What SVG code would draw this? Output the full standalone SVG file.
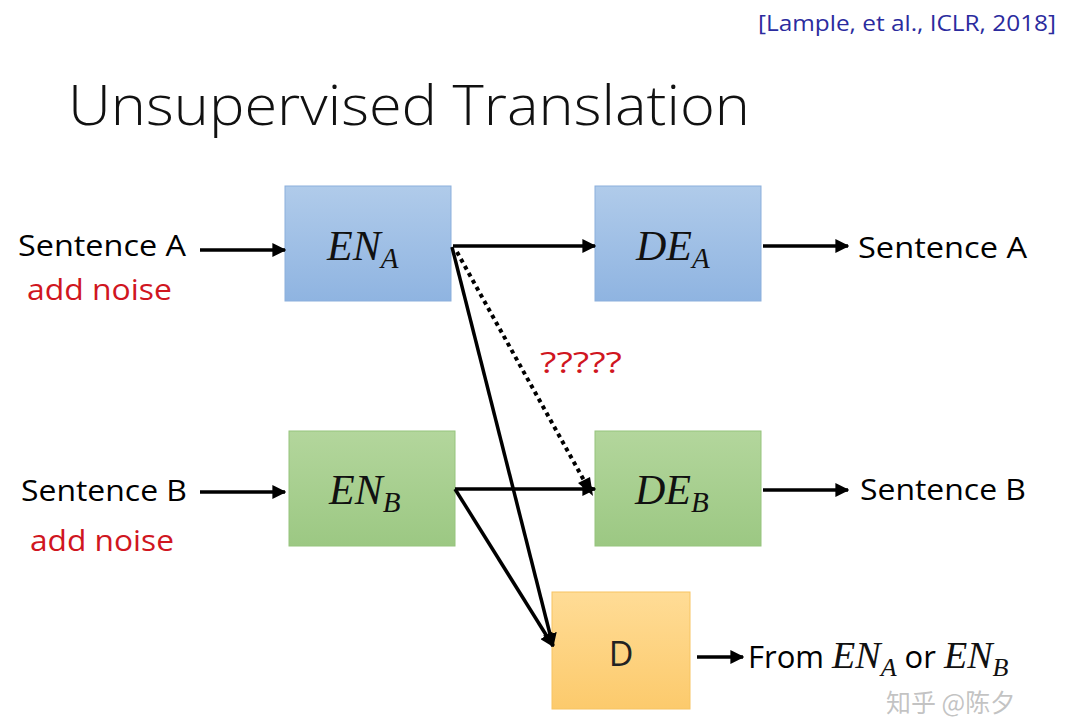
<svg xmlns="http://www.w3.org/2000/svg" width="1080" height="721" viewBox="0 0 1080 721">
<defs>
<linearGradient id="gBlue" x1="0" y1="0" x2="0" y2="1"><stop offset="0" stop-color="#b0cbea"/><stop offset="1" stop-color="#8fb4e1"/></linearGradient>
<linearGradient id="gGreen" x1="0" y1="0" x2="0" y2="1"><stop offset="0" stop-color="#b3d69c"/><stop offset="1" stop-color="#9cc883"/></linearGradient>
<linearGradient id="gOrange" x1="0" y1="0" x2="0" y2="1"><stop offset="0" stop-color="#ffdc96"/><stop offset="1" stop-color="#fcca6c"/></linearGradient>
<marker id="ah" viewBox="0 0 10 10" refX="9" refY="5" markerWidth="4" markerHeight="4" orient="auto" markerUnits="strokeWidth"><path d="M0,0 L10,5 L0,10 z" fill="#000"/></marker>
</defs>
<style>
.lbl{font-family:"Open Sans","Noto Sans","Liberation Sans",sans-serif;font-size:29px;fill:#000}
.red{font-family:"Open Sans","Noto Sans","Liberation Sans",sans-serif;font-size:29px;fill:#d0161f}
.math{font-family:"Liberation Serif","DejaVu Serif",serif;font-style:italic;fill:#111}
.conn{stroke:#000;stroke-width:3.5;fill:none;marker-end:url(#ah)}
.box{stroke-width:1}
</style>
<rect width="1080" height="721" fill="#fff"/>
<text x="758" y="31" font-family="Open Sans, Noto Sans, Liberation Sans, sans-serif" font-size="22" fill="#2b2b9e" textLength="298" lengthAdjust="spacingAndGlyphs">[Lample, et al., ICLR, 2018]</text>
<text x="68" y="125" font-family="Open Sans, Noto Sans, Liberation Sans, sans-serif" font-size="56" font-weight="300" fill="#111" textLength="682" lengthAdjust="spacingAndGlyphs">Unsupervised Translation</text>

<g id="inA">
<text class="lbl" x="18" y="256" textLength="168" lengthAdjust="spacingAndGlyphs">Sentence A</text>
<text class="red" x="27" y="300" textLength="145" lengthAdjust="spacingAndGlyphs">add noise</text>
</g>
<g id="inB">
<text class="lbl" x="21" y="501" textLength="166" lengthAdjust="spacingAndGlyphs">Sentence B</text>
<text class="red" x="30" y="551" textLength="144" lengthAdjust="spacingAndGlyphs">add noise</text>
</g>
<g id="ENA">
<rect class="box" x="285" y="186" width="166" height="115" fill="url(#gBlue)" stroke="#8bafdc"/>
<text class="math" x="327" y="260" font-size="42">EN<tspan font-size="29" dy="8">A</tspan></text>
</g>
<g id="DEA">
<rect class="box" x="595" y="186" width="166" height="115" fill="url(#gBlue)" stroke="#8bafdc"/>
<text class="math" x="636" y="260" font-size="42">DE<tspan font-size="29" dy="8">A</tspan></text>
</g>
<g id="ENB">
<rect class="box" x="289" y="431" width="166" height="115" fill="url(#gGreen)" stroke="#96c47d"/>
<text class="math" x="329" y="504" font-size="42">EN<tspan font-size="29" dy="8">B</tspan></text>
</g>
<g id="DEB">
<rect class="box" x="595" y="431" width="166" height="115" fill="url(#gGreen)" stroke="#96c47d"/>
<text class="math" x="635" y="504" font-size="42">DE<tspan font-size="29" dy="8">B</tspan></text>
</g>
<g id="D">
<rect class="box" x="552" y="592" width="138" height="117" fill="url(#gOrange)" stroke="#f7c463"/>
<text class="lbl" x="621" y="666" text-anchor="middle" style="font-size:34px;fill:#222">D</text>
</g>
<g id="outA"><text class="lbl" x="858" y="258" textLength="169" lengthAdjust="spacingAndGlyphs">Sentence A</text></g>
<g id="outB"><text class="lbl" x="860" y="500" textLength="166" lengthAdjust="spacingAndGlyphs">Sentence B</text></g>
<g id="outD">
<text class="lbl" x="748" y="668" style="font-size:31px">From <tspan class="math" font-size="38">EN</tspan><tspan class="math" font-size="26" dy="8">A</tspan><tspan dy="-8"> or </tspan><tspan class="math" font-size="38">EN</tspan><tspan class="math" font-size="26" dy="8">B</tspan></text>
</g>
<g id="q"><text class="red" x="540" y="373" textLength="82" lengthAdjust="spacingAndGlyphs">?????</text></g>

<g id="connectors">
<line class="conn" x1="200" y1="250" x2="285" y2="250"/>
<line class="conn" x1="453" y1="246" x2="595" y2="246"/>
<line class="conn" x1="763" y1="246" x2="848" y2="246"/>
<line class="conn" x1="200" y1="492" x2="285" y2="492"/>
<line class="conn" x1="455" y1="489" x2="595" y2="489"/>
<line class="conn" x1="763" y1="490" x2="848" y2="490"/>
<line class="conn" x1="452" y1="247" x2="553" y2="646"/>
<line class="conn" x1="455" y1="489" x2="553" y2="646"/>
<line class="conn" x1="697" y1="657" x2="743" y2="657"/>
<line x1="457" y1="252" x2="586" y2="484" stroke="#000" stroke-width="4" stroke-dasharray="4 4"/>
<path d="M593,496 L578,483 L590,477 z" fill="#000"/>
</g>
<text x="886" y="712" font-family="Noto Sans CJK SC, sans-serif" font-size="25" fill="#888" fill-opacity="0.5">知乎 @陈夕</text>
</svg>
